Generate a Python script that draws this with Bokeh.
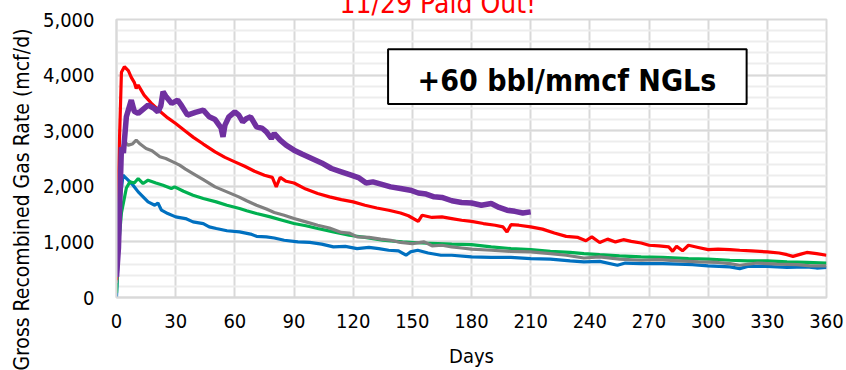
import math
from bokeh.plotting import figure
from bokeh.models import (Range1d, SingleIntervalTicker, NumeralTickFormatter,
                          Label, BoxAnnotation, Title)
from bokeh.embed import file_html
from bokeh.resources import INLINE

FONT = "DejaVu Sans Condensed"

# ---------------- data ----------------
red_days = [0, 1, 2.5, 4, 6, 7.5, 9, 10, 11, 14, 18, 22, 26, 30, 35, 39, 44, 50, 55, 60,
            65, 70, 75, 79, 81, 83, 86, 90, 96, 102, 108, 114, 120, 126, 132, 138, 144,
            148, 150, 153, 155, 160, 165, 170, 175, 180, 186, 192, 196, 198, 200, 204,
            210, 216, 222, 228, 234, 238, 241, 245, 249, 253, 257, 261, 266, 270, 275,
            280, 282, 284, 287, 290, 295, 300, 305, 311, 316, 322, 330, 336, 340, 343,
            347, 350, 355, 360]
red_vals = [310, 2200, 4050, 4150, 4080, 3960, 3870, 3760, 3820, 3640, 3480, 3350, 3230,
            3130, 2990, 2880, 2760, 2620, 2520, 2440, 2360, 2270, 2200, 2160, 1990, 2160,
            2090, 2060, 1950, 1870, 1810, 1760, 1720, 1660, 1610, 1570, 1520, 1470, 1430,
            1370, 1480, 1440, 1450, 1420, 1390, 1370, 1330, 1300, 1270, 1180, 1310, 1300,
            1270, 1230, 1160, 1100, 1080, 1020, 1090, 990, 1050, 1000, 1040, 1010, 980,
            940, 930, 910, 830, 920, 840, 940, 900, 860, 870, 860, 850, 840, 820, 800,
            770, 740, 780, 810, 790, 760]

purple_days = [0, 1, 2.5, 3.5, 5, 6, 7.5, 9, 11, 13, 16, 19, 21, 22.5, 23.6, 25, 28, 31,
               33, 36, 40, 44, 47, 50, 53, 54, 55, 57, 60, 62, 64, 66, 68, 71, 74, 76,
               78.5, 80, 83, 86, 90, 94, 99, 104, 109, 114, 119, 123, 126.6, 130, 135,
               139, 144, 149, 153, 157, 161, 165, 170, 175, 180, 185, 190, 194, 198, 202,
               206, 210]
purple_vals = [370, 900, 2700, 2600, 3250, 3370, 3550, 3350, 3310, 3370, 3460, 3400, 3340,
               3450, 3700, 3620, 3490, 3550, 3450, 3280, 3330, 3370, 3250, 3200, 3050,
               2890, 3100, 3250, 3340, 3280, 3160, 3220, 3250, 3070, 3040, 2980, 2860,
               2950, 2830, 2740, 2650, 2580, 2500, 2420, 2320, 2260, 2200, 2150, 2060,
               2080, 2030, 1990, 1960, 1930, 1880, 1860, 1810, 1800, 1740, 1710, 1700,
               1660, 1690, 1620, 1570, 1550, 1520, 1540]

gray_days = [0, 1, 2.5, 4, 6, 8, 10, 12, 15, 18, 22, 25, 28.6, 32, 35, 38.8, 44, 50, 56,
             62, 66, 71, 76, 80, 85, 90, 96, 102, 108, 114, 118, 122, 128, 134, 139, 144,
             150, 156, 160, 165, 170, 175, 180, 190, 200, 210, 220, 228, 237, 245, 255,
             266, 275, 285, 295, 305, 311, 316, 325, 335, 345, 352, 360]
gray_vals = [260, 1500, 2650, 2800, 2740, 2760, 2830, 2760, 2680, 2640, 2530, 2500, 2440,
             2380, 2310, 2230, 2120, 1990, 1900, 1810, 1740, 1660, 1590, 1530, 1480, 1420,
             1360, 1300, 1250, 1170, 1160, 1090, 1080, 1050, 1030, 990, 970, 1000, 930,
             940, 910, 890, 870, 850, 830, 820, 790, 760, 710, 730, 690, 670, 680, 660,
             640, 630, 610, 580, 620, 600, 590, 570, 570]

green_days = [0, 1, 2.5, 5, 6.8, 9, 11, 13.5, 16, 20, 23.6, 27.8, 29.5, 34, 38.8, 44, 50.6,
              56, 62.4, 66, 71, 78, 84, 90, 96, 102, 110, 118, 126, 135, 145, 155, 163,
              170, 180, 190, 200, 210, 220, 230, 237, 245, 255, 266, 277, 290, 300, 311,
              320, 330, 340, 350, 360]
green_vals = [80, 900, 1520, 1970, 2080, 2060, 2140, 2050, 2110, 2060, 2020, 1960, 1990,
              1910, 1840, 1780, 1720, 1660, 1600, 1560, 1510, 1450, 1390, 1330, 1290, 1240,
              1180, 1120, 1080, 1030, 1000, 980, 970, 960, 950, 910, 880, 860, 830, 810,
              790, 770, 750, 730, 720, 700, 690, 670, 660, 660, 640, 630, 620]

blue_days = [0, 1, 2, 3.3, 5.9, 8.4, 11, 13.5, 16, 19.4, 21, 22.8, 26, 30, 35, 38.8, 44,
             47, 50.6, 56, 62.4, 68, 71, 76, 80, 85, 92, 98, 104, 110, 116, 122, 128, 133,
             138, 143, 146.8, 149, 152.7, 158, 164.5, 170, 180, 190, 200, 210, 220, 230,
             237, 245, 254, 258, 266, 277, 285, 292, 300, 311, 316, 320, 330, 340, 350,
             355, 360]
blue_vals = [10, 900, 1800, 2200, 2110, 2020, 1900, 1810, 1720, 1660, 1700, 1570, 1510,
             1450, 1420, 1360, 1330, 1270, 1240, 1200, 1180, 1140, 1100, 1090, 1070, 1030,
             1000, 990, 960, 910, 920, 880, 900, 880, 850, 840, 760, 820, 850, 800, 760,
             760, 730, 720, 720, 700, 690, 660, 640, 650, 580, 620, 610, 610, 600, 590,
             570, 550, 520, 560, 560, 540, 550, 530, 540]

x_ticks_step = 30
y_ticks_step = 1000
title_text = "11/29 Paid Out!"
box_text = "+60 bbl/mmcf NGLs"
y_label = "Gross Recombined Gas Rate (mcf/d)"
x_label = "Days"

# ---------------- figure ----------------
SHIFT = 18  # figure is lifted so the red title is cut at the top like the original
p = figure(width=846, height=370 + SHIFT, output_backend="svg", toolbar_location=None,
           x_range=Range1d(0, 360), y_range=Range1d(0, 5000),
           min_border_left=115, min_border_right=20, min_border_top=19 + SHIFT,
           min_border_bottom=73)
p.styles = {"margin-top": f"-{SHIFT}px"}
p.background_fill_color = "white"
p.border_fill_color = "white"
p.outline_line_color = "#D9D9D9"
p.outline_line_width = 2

p.title.text = title_text
p.title.text_font = FONT
p.title.text_font_size = "28px"
p.title.text_font_style = "normal"
p.title.text_color = "#FF0000"
p.title.align = "left"
p.title.offset = 223
p.title.vertical_align = "bottom"
p.title.standoff = 0

p.xaxis.ticker = SingleIntervalTicker(interval=x_ticks_step, num_minor_ticks=0)
p.yaxis.ticker = SingleIntervalTicker(interval=y_ticks_step, num_minor_ticks=5)
p.yaxis.formatter = NumeralTickFormatter(format="0,0")

for ax in (p.xaxis, p.yaxis):
    ax.axis_line_color = "#D9D9D9"
    ax.axis_line_width = 2
    ax.major_tick_line_color = None
    ax.minor_tick_line_color = None
    ax.major_tick_out = 0
    ax.major_tick_in = 0
    ax.minor_tick_out = 0
    ax.minor_tick_in = 0
    ax.major_label_text_font = FONT
    ax.major_label_text_font_size = "20px"
    ax.major_label_text_color = "#000000"
p.yaxis.major_label_standoff = 22
p.xaxis.major_label_standoff = 16
p.xaxis.axis_label = x_label
p.xaxis.axis_label_text_font = FONT
p.xaxis.axis_label_text_font_size = "20px"
p.xaxis.axis_label_text_font_style = "normal"
p.xaxis.axis_label_text_color = "#000000"
p.xaxis.axis_label_standoff = 13

ytitle = Title(text=y_label, text_font=FONT, text_font_size="21px",
               text_font_style="normal", text_color="#000000",
               align="right", offset=9, vertical_align="bottom", standoff=14)
p.add_layout(ytitle, "left")

p.xgrid.grid_line_color = "#D9D9D9"
p.xgrid.grid_line_width = 2
p.ygrid.grid_line_color = "#D9D9D9"
p.ygrid.grid_line_width = 2
p.ygrid.minor_grid_line_color = "#EDEDED"
p.ygrid.minor_grid_line_width = 2

# ---------------- series ----------------
p.line(blue_days, blue_vals, line_color="#0070C0", line_width=3.2)
p.line(green_days, green_vals, line_color="#00B050", line_width=3.2)
p.line(gray_days, gray_vals, line_color="#808080", line_width=3.2)
p.line(red_days, red_vals, line_color="#FF0000", line_width=3.2)
p.line(purple_days, purple_vals, line_color="#7030A0", line_width=5.5)

# ---------------- annotations ----------------
p.add_layout(BoxAnnotation(left=137.7, right=319.5, bottom=3479, top=4464,
                           fill_color="white", fill_alpha=1.0,
                           line_color="black", line_width=2, line_alpha=1.0))
p.add_layout(Label(x=228.4, y=3910, text=box_text, text_font=FONT,
                   text_font_style="bold", text_font_size="30px",
                   text_align="center", text_baseline="alphabetic",
                   text_color="black"))

open("out.html", "w").write(file_html(p, INLINE))
